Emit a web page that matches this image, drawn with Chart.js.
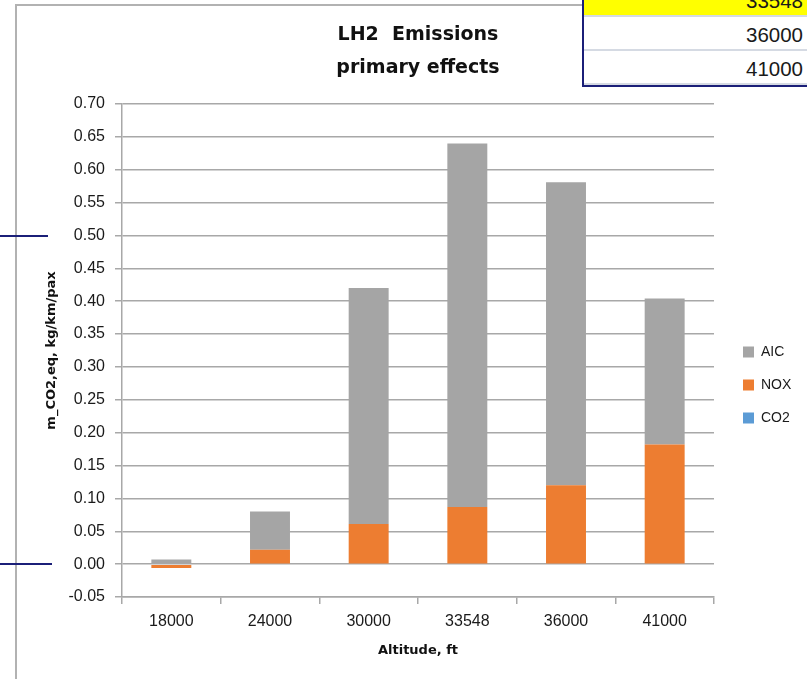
<!DOCTYPE html>
<html>
<head>
<meta charset="utf-8">
<script src="https://cdn.jsdelivr.net/npm/chart.js@4.4.1/dist/chart.umd.min.js"></script>
<style>
  html, body { margin: 0; padding: 0; background: #ffffff; }
  #wrap { position: relative; width: 807px; height: 679px; overflow: hidden; background: #fff; }
  #c { position: absolute; left: 0; top: 0; }
  .frame { position: absolute; left: 15px; top: 4px; width: 600px; height: 700px;
           border-left: 2px solid #B2B2B2; border-top: 2px solid #B2B2B2; box-sizing: border-box; }
  .navy { position: absolute; height: 2px; background: #1B1F78; left: 0; }
  #tbl { position: absolute; left: 582px; top: 0; width: 225px; height: 87px; background: #fff;
         border-left: 2px solid #1B1F78; border-bottom: 2px solid #1B1F78; box-sizing: border-box; overflow: hidden; }
  .row { position: absolute; left: 0; width: 223px; height: 34px; box-sizing: border-box;
         border-bottom: 2px solid #D5DAE3; font: 20.5px "Liberation Sans", Arial, sans-serif; color: #1a1a1a;
         text-align: right; padding-right: 4px; line-height: 36px; }
</style>
</head>
<body>
<div id="wrap">
  <canvas id="c" width="807" height="679"></canvas>
  <div class="frame"></div>
  <div class="navy" style="top:235px;width:48px;"></div>
  <div class="navy" style="top:563px;width:52px;"></div>
  <div id="tbl"></div>
</div>
<script>
// ---- data ----
const categories = ['18000', '24000', '30000', '33548', '36000', '41000'];
const co2Values = [0, 0, 0, 0, 0, 0];
const noxValues = [-0.006, 0.022, 0.061, 0.087, 0.120, 0.182];
const aicValues = [0.007, 0.058, 0.359, 0.553, 0.461, 0.222];
const titleLines = ['LH2  Emissions', 'primary effects'];
const tableRows = ['33548', '36000', '41000'];
const tableRowColors = ['#FFFF00', '#FFFFFF', '#FFFFFF'];

// ---- spreadsheet fragment (top right) ----
const tbl = document.getElementById('tbl');
tableRows.forEach((t, i) => {
  const d = document.createElement('div');
  d.className = 'row';
  d.style.top = (-17 + i * 34) + 'px';
  d.style.background = tableRowColors[i];
  d.textContent = t;
  tbl.appendChild(d);
});

const GRID = '#A8A8A8';
const TXT = '#1a1a1a';

const legendPlacer = {
  id: 'legendPlacer',
  afterLayout(chart) {
    const lg = chart.legend;
    if (!lg) return;
    lg.left = 724; lg.right = 807;
    lg.top = 104; lg.bottom = 666;
  }
};

new Chart(document.getElementById('c'), {
  type: 'bar',
  data: {
    labels: categories,
    datasets: [
      { label: 'CO2', data: co2Values, backgroundColor: '#5B9BD5', borderWidth: 0 },
      { label: 'NOX', data: noxValues, backgroundColor: '#ED7D31', borderWidth: 0 },
      { label: 'AIC', data: aicValues, backgroundColor: '#A5A5A5', borderWidth: 0 }
    ]
  },
  plugins: [legendPlacer],
  options: {
    responsive: false,
    animation: false,
    devicePixelRatio: 1,
    layout: { padding: { left: 40, right: 33, top: 10, bottom: 12 } },
    datasets: { bar: { barPercentage: 0.405, categoryPercentage: 1.0 } },
    plugins: {
      tooltip: { enabled: false },
      title: {
        display: true,
        fullSize: false,
        text: titleLines,
        color: '#111',
        font: { family: 'DejaVu Sans', weight: 'bold', size: 19, lineHeight: 33 / 19 },
        padding: { top: 9, bottom: 19 }
      },
      legend: {
        display: true,
        position: 'right',
        fullSize: false,
        maxWidth: 60,
        reverse: true,
        labels: {
          boxWidth: 11, boxHeight: 11, padding: 19, color: TXT,
          font: { family: 'Liberation Sans', size: 14 }
        }
      }
    },
    scales: {
      x: {
        stacked: true,
        afterFit(s) { s.height = 70; },
        grid: { display: true, drawOnChartArea: false, drawTicks: true, tickLength: 7,
                offset: true, color: GRID, lineWidth: 1.5 },
        border: { display: true, color: GRID, width: 1.5 },
        ticks: { color: TXT, padding: 8, font: { family: 'Liberation Sans', size: 16 } },
        title: { display: true, text: 'Altitude, ft', color: '#111',
                 font: { family: 'DejaVu Sans', weight: 'bold', size: 13 },
                 padding: { top: 4, bottom: 9 } }
      },
      y: {
        stacked: true,
        min: -0.05, max: 0.70,
        afterFit(s) { s.width = 82; },
        grid: { color: GRID, lineWidth: 1.5, tickLength: 7, drawTicks: true },
        border: { display: true, color: GRID, width: 1.5 },
        ticks: { stepSize: 0.05, color: TXT, padding: 10,
                 font: { family: 'Liberation Sans', size: 16 },
                 callback: (v) => Number(v).toFixed(2) },
        title: { display: true, text: 'm_CO2,eq, kg/km/pax', color: '#111',
                 font: { family: 'DejaVu Sans', weight: 'bold', size: 13 },
                 padding: { top: 4, bottom: 4 } }
      }
    }
  }
});
</script>
</body>
</html>
